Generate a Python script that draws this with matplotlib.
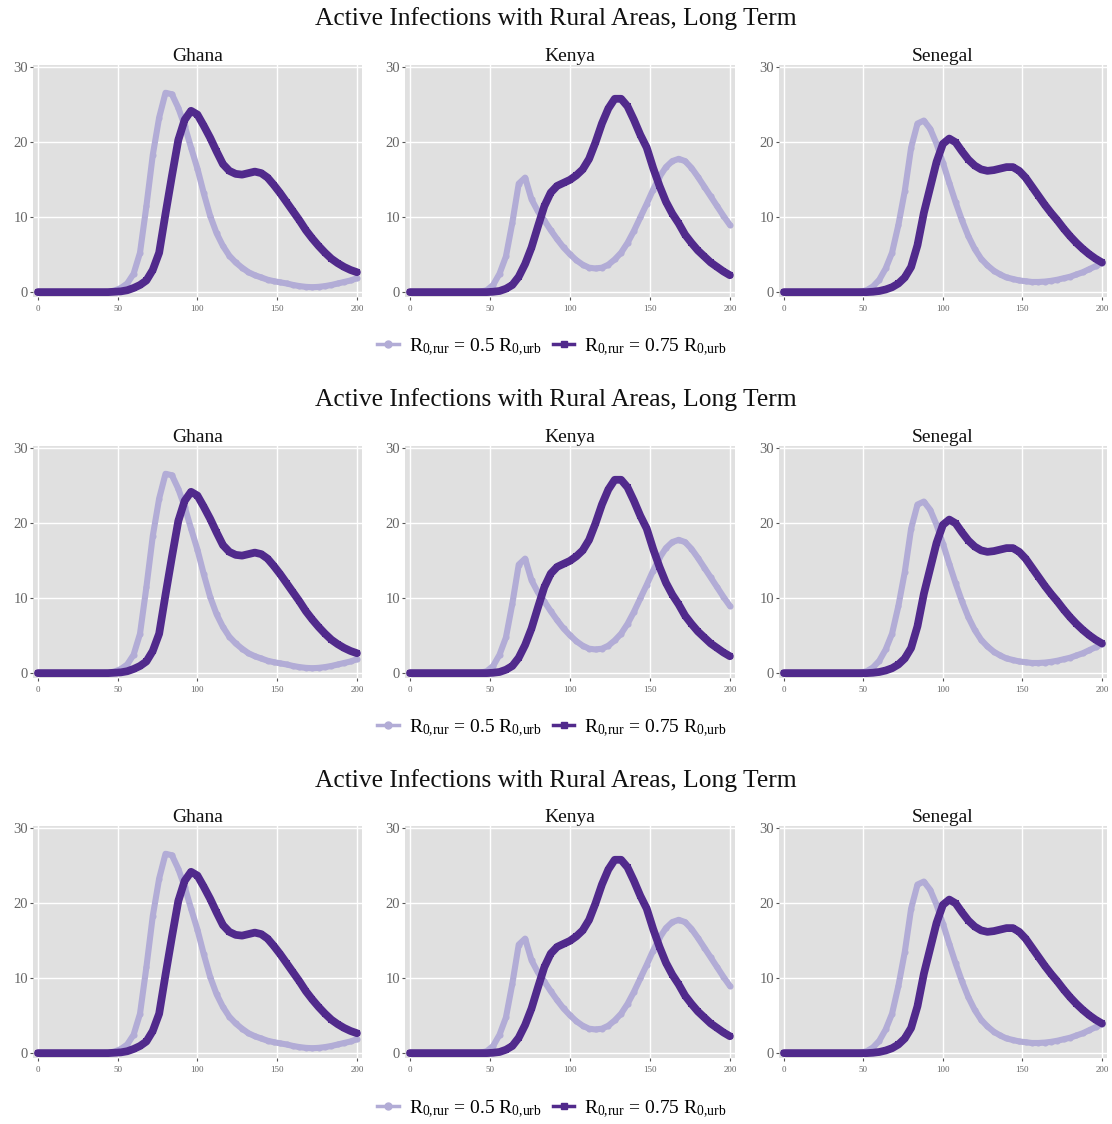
import matplotlib
matplotlib.use("Agg")
import matplotlib.pyplot as plt
from matplotlib.lines import Line2D

plt.rcParams['font.family'] = ['Liberation Serif', 'DejaVu Serif']
plt.rcParams['mathtext.fontset'] = 'custom'
plt.rcParams['mathtext.rm'] = 'Liberation Serif'
plt.rcParams['mathtext.it'] = 'Liberation Serif:italic'

# ---------------- data ----------------
days = list(range(0, 201, 4))
countries = ["Ghana", "Kenya", "Senegal"]
title = "Active Infections with Rural Areas, Long Term"
series_labels = [r"$\mathrm{R_{0{,}rur}}$ = 0.5 $\mathrm{R_{0{,}urb}}$",
                 r"$\mathrm{R_{0{,}rur}}$ = 0.75 $\mathrm{R_{0{,}urb}}$"]
x_ticks = [0, 50, 100, 150, 200]
y_ticks = [0, 10, 20, 30]

ghana_050 = [0, 0, 0, 0, 0, 0, 0, 0, 0, 0.02, 0.05, 0.1, 0.25, 0.6, 1.2, 2.5, 5.3,
             11.5, 18.3, 23.3, 26.6, 26.4, 24.6, 22.2, 19.3, 16.5, 13.2, 10.2, 7.9,
             6.2, 4.9, 4.0, 3.3, 2.7, 2.3, 2.0, 1.7, 1.5, 1.35, 1.2, 1.0, 0.85, 0.75,
             0.7, 0.75, 0.85, 1.0, 1.2, 1.4, 1.6, 1.9]
ghana_075 = [0.05, 0.05, 0.05, 0.05, 0.05, 0.05, 0.05, 0.05, 0.05, 0.05, 0.05, 0.05,
             0.1, 0.15, 0.3, 0.6, 1.0, 1.6, 3.0, 5.3, 10.5, 15.5, 20.3, 23.0, 24.2,
             23.7, 22.2, 20.6, 18.8, 17.1, 16.2, 15.8, 15.7, 15.9, 16.1, 15.9, 15.3,
             14.3, 13.2, 12.0, 10.8, 9.6, 8.3, 7.2, 6.2, 5.3, 4.5, 3.9, 3.4, 3.0, 2.7]
kenya_050 = [0, 0, 0, 0, 0, 0, 0, 0, 0, 0, 0, 0.1, 0.3, 1.0, 2.5, 4.8, 9.3, 14.5,
             15.3, 12.4, 10.8, 9.6, 8.3, 7.1, 6.0, 5.1, 4.3, 3.7, 3.3, 3.2, 3.3, 3.7,
             4.4, 5.3, 6.6, 8.2, 10.0, 11.8, 13.7, 15.4, 16.7, 17.5, 17.8, 17.5, 16.6,
             15.4, 14.1, 12.8, 11.5, 10.2, 9.0]
kenya_075 = [0.05, 0.05, 0.05, 0.05, 0.05, 0.05, 0.05, 0.05, 0.05, 0.05, 0.05, 0.05,
             0.05, 0.1, 0.2, 0.5, 1.0, 2.1, 3.8, 6.0, 8.8, 11.5, 13.3, 14.2, 14.6,
             15.0, 15.6, 16.4, 17.8, 20.0, 22.5, 24.5, 25.8, 25.8, 24.8, 23.0, 21.0,
             19.3, 16.6, 14.2, 12.1, 10.5, 9.2, 7.7, 6.6, 5.6, 4.8, 4.0, 3.4, 2.8, 2.3]
senegal_050 = [0, 0, 0, 0, 0, 0, 0, 0, 0, 0, 0, 0, 0.1, 0.3, 0.8, 1.7, 3.2, 5.3,
               9.0, 13.5, 19.3, 22.5, 22.9, 21.8, 19.8, 17.3, 14.6, 12.0, 9.6, 7.5,
               5.8, 4.5, 3.6, 2.9, 2.4, 2.0, 1.8, 1.6, 1.5, 1.4, 1.4, 1.45, 1.55, 1.7,
               1.9, 2.1, 2.4, 2.7, 3.1, 3.5, 3.9]
senegal_075 = [0.05, 0.05, 0.05, 0.05, 0.05, 0.05, 0.05, 0.05, 0.05, 0.05, 0.05, 0.05,
               0.05, 0.05, 0.1, 0.2, 0.4, 0.7, 1.2, 2.0, 3.4, 6.3, 10.6, 14.0, 17.4,
               19.8, 20.5, 20.0, 18.8, 17.7, 16.9, 16.4, 16.2, 16.3, 16.5, 16.7, 16.7,
               16.2, 15.3, 14.1, 12.9, 11.7, 10.6, 9.6, 8.5, 7.5, 6.6, 5.8, 5.1, 4.5, 4.0]

low_series = [ghana_050, kenya_050, senegal_050]
high_series = [ghana_075, kenya_075, senegal_075]

# ---------------- style ----------------
LIGHT = "#b2acd6"
DARK = "#512a8c"
BG = "#e0e0e0"
W, H = 1112, 1124
panel_x = [(33, 362), (405, 735), (779, 1107)]
row_tops = [65, 446, 826]
panel_h = 232

fig = plt.figure(figsize=(W / 100, H / 100), dpi=100)
fig.patch.set_facecolor("white")

for r, top in enumerate(row_tops):
    for c, (x0, x1) in enumerate(panel_x):
        ax = fig.add_axes([x0 / W, 1 - (top + panel_h) / H, (x1 - x0) / W, panel_h / H])
        ax.set_facecolor(BG)
        ax.grid(True, color="white", linewidth=1.0)
        ax.set_axisbelow(True)
        for s in ax.spines.values():
            s.set_visible(False)
        ax.plot(days, low_series[c], color=LIGHT, lw=4.4, marker="o", ms=4.4, mew=0,
                solid_capstyle="round", solid_joinstyle="round", zorder=3)
        ax.plot(days, high_series[c], color=DARK, lw=5.6, marker="s", ms=4.6, mew=0,
                solid_capstyle="round", solid_joinstyle="round", zorder=4)
        ax.set_xlim(-3.1, 203.2)
        ax.set_ylim(-0.6, 30.3)
        ax.set_xticks(x_ticks)
        ax.set_yticks(y_ticks)
        ax.tick_params(axis="x", labelsize=6.5, length=2.5, pad=3,
                       color="#555555", labelcolor="#666666")
        ax.tick_params(axis="y", labelsize=10.5, length=2.5, pad=1,
                       color="#555555", labelcolor="#666666")
        ax.set_title(countries[c], fontsize=14, pad=3, color="#111111")
    fig.text(556 / W, 1 - (19 + 381 * r) / H, title, ha="center", va="center",
             fontsize=18.4, color="#111111")
    handles = [Line2D([], [], color=LIGHT, lw=2.5, marker="o", ms=5),
               Line2D([], [], color=DARK, lw=2.5, marker="s", ms=5)]
    fig.legend(handles, series_labels, loc="center",
               bbox_to_anchor=(552 / W, 1 - (347 + 381 * r) / H), ncol=2,
               frameon=False, fontsize=14, handlelength=1.1, handletextpad=0.5,
               columnspacing=0.6)

fig.savefig("out.png", dpi=100, facecolor="white")
